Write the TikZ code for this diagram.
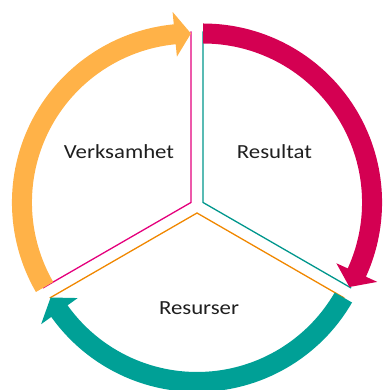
\documentclass[tikz,border=0pt]{standalone}
\usepackage{fontspec}
\setmainfont{Carlito}[FakeStretch=1.14]
\usetikzlibrary{calc}
\definecolor{arrowOrange}{RGB}{255,178,72}
\definecolor{arrowCrimson}{RGB}{212,0,82}
\definecolor{arrowTeal}{RGB}{0,160,150}
\definecolor{linePink}{RGB}{228,0,124}
\definecolor{lineTeal}{RGB}{0,150,140}
\definecolor{lineOrange}{RGB}{240,135,0}

\begin{document}
\begin{tikzpicture}[x=1pt,y=1pt,
    sector label/.style={font=\fontsize{20}{24}\selectfont, text=black!88, anchor=base, inner sep=0pt},
    spoke/.style={line width=1.3pt}]
\useasboundingbox (0,0) rectangle (382,390);
\coordinate (mid) at (197,184);
\coordinate (vapex) at ($(mid)+(150:7)$);
\coordinate (rapex) at ($(mid)+(30:7)$);
\coordinate (sapex) at ($(mid)+(270:7)$);
% spoke ends
\coordinate (vtop) at ($(vapex)+(90:171)$);
\coordinate (vleft) at ($(vapex)+(210:171)$);
\coordinate (rtop) at ($(rapex)+(90:171)$);
\coordinate (rright) at ($(rapex)+(-30:171)$);
\coordinate (sleft) at ($(sapex)+(210:170)$);
\coordinate (sright) at ($(sapex)+(-30:170)$);
% thin spokes
\draw[spoke, linePink] (vtop) -- (vapex) -- (vleft);
\draw[spoke, lineTeal] (rtop) -- (rapex) -- (rright);
\draw[spoke, lineOrange] (sleft) -- (sapex) -- (sright);
% thick arrows round the sectors
\fill[arrowOrange, shift={(vapex)}] (210:179) arc[start angle=210, end angle=95.5, radius=179]
    -- (95.5:191.5) -- (90:169) -- (95.5:146.5) -- (95.5:159)
    arc[start angle=95.5, end angle=210, radius=159] -- cycle;
\fill[arrowCrimson, shift={(rapex)}] (90:179) arc[start angle=90, end angle=-24.5, radius=179]
    -- (-24.5:191.5) -- (-30:169) -- (-24.5:146.5) -- (-24.5:159)
    arc[start angle=-24.5, end angle=90, radius=159] -- cycle;
\fill[arrowTeal, shift={(sapex)}] (-30:179) arc[start angle=-30, end angle=-144.5, radius=179]
    -- (-144.5:191.5) -- (-150:169) -- (-144.5:146.5) -- (-144.5:159)
    arc[start angle=-144.5, end angle=-30, radius=159] -- cycle;
% labels
\node[sector label] (verksamhet) at (119,231) {Verksamhet};
\node[sector label] (resultat) at (274.5,231) {Resultat};
\node[sector label] (resurser) at (199,75) {Resurser};
\end{tikzpicture}
\end{document}
